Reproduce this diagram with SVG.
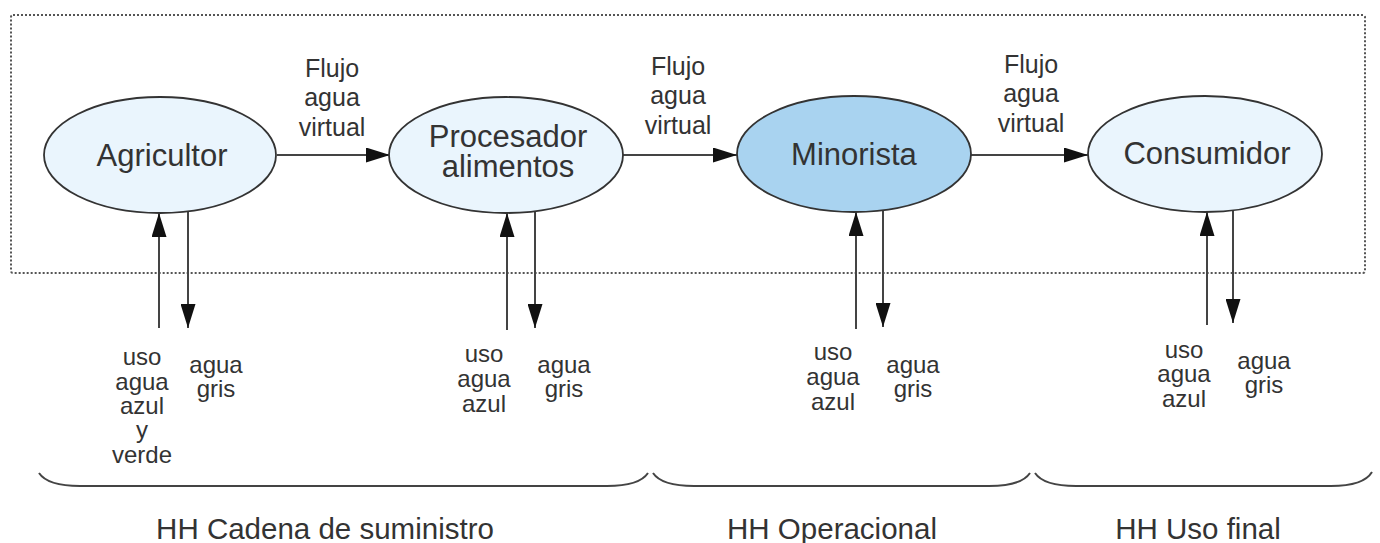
<svg xmlns="http://www.w3.org/2000/svg" width="1380" height="543" viewBox="0 0 1380 543">
  <defs>
    <marker id="arrow" viewBox="0 0 24 15" refX="24" refY="7.5" markerWidth="24" markerHeight="15" markerUnits="userSpaceOnUse" orient="auto">
      <path d="M0,0 L24,7.5 L0,15 Z" fill="#111"/>
    </marker>
    <style>
      .frame { fill: none; stroke: #555; stroke-width: 2; stroke-dasharray: 2 2; }
      .node ellipse { stroke: #333; stroke-width: 1.8; }
      .light { fill: #eaf5fd; }
      .dark { fill: #a9d3f0; }
      .link { stroke: #444; stroke-width: 2; fill: none; marker-end: url(#arrow); }
      .brace { stroke: #444; stroke-width: 2; fill: none; }
      text { font-family: "Liberation Sans", Arial, sans-serif; fill: #333; text-anchor: middle; }
      .name { font-size: 31px; }
      .flow { font-size: 25px; }
      .lbl { font-size: 24px; }
      .sec { font-size: 29.5px; }
    </style>
  </defs>
  <rect width="1380" height="543" fill="#fff"/>

  <!-- dotted system boundary -->
  <rect class="frame" x="11" y="15" width="1354" height="258" rx="2"/>

  <!-- connectors -->
  <g id="connectors">
    <line class="link" x1="277" y1="155" x2="390" y2="155"/>
    <line class="link" x1="623" y1="155" x2="737" y2="155"/>
    <line class="link" x1="971" y1="155" x2="1088" y2="155"/>

    <line class="link" x1="159" y1="328" x2="159" y2="213"/>
    <line class="link" x1="188" y1="211" x2="188" y2="328"/>
    <line class="link" x1="507" y1="330" x2="507" y2="213"/>
    <line class="link" x1="535" y1="211" x2="535" y2="328"/>
    <line class="link" x1="856" y1="329" x2="856" y2="212"/>
    <line class="link" x1="883" y1="210" x2="883" y2="327"/>
    <line class="link" x1="1207" y1="325" x2="1207" y2="212"/>
    <line class="link" x1="1233" y1="210" x2="1233" y2="323"/>
  </g>

  <!-- nodes -->
  <g id="agricultor" class="node">
    <ellipse class="light" cx="160" cy="155" rx="116" ry="58"/>
    <text class="name" x="162" y="166">Agricultor</text>
  </g>
  <g id="procesador" class="node">
    <ellipse class="light" cx="506" cy="155" rx="117" ry="58"/>
    <text class="name" x="508" y="147">Procesador</text>
    <text class="name" x="508" y="177">alimentos</text>
  </g>
  <g id="minorista" class="node">
    <ellipse class="dark" cx="854" cy="154" rx="117" ry="58"/>
    <text class="name" x="854" y="165">Minorista</text>
  </g>
  <g id="consumidor" class="node">
    <ellipse class="light" cx="1205" cy="154" rx="117" ry="58"/>
    <text class="name" x="1207" y="164">Consumidor</text>
  </g>

  <!-- flow labels -->
  <g id="flow-labels">
    <text class="flow" x="332" y="77">Flujo</text>
    <text class="flow" x="332" y="106">agua</text>
    <text class="flow" x="332" y="136">virtual</text>
    <text class="flow" x="678" y="75">Flujo</text>
    <text class="flow" x="678" y="104">agua</text>
    <text class="flow" x="678" y="134">virtual</text>
    <text class="flow" x="1031" y="73">Flujo</text>
    <text class="flow" x="1031" y="102">agua</text>
    <text class="flow" x="1031" y="132">virtual</text>
  </g>

  <!-- water use labels -->
  <g id="use-labels">
    <text class="lbl" x="142" y="365">uso</text>
    <text class="lbl" x="142" y="390">agua</text>
    <text class="lbl" x="142" y="414">azul</text>
    <text class="lbl" x="142" y="438">y</text>
    <text class="lbl" x="142" y="463">verde</text>
    <text class="lbl" x="216" y="373">agua</text>
    <text class="lbl" x="216" y="397">gris</text>

    <text class="lbl" x="484" y="362">uso</text>
    <text class="lbl" x="484" y="387">agua</text>
    <text class="lbl" x="484" y="412">azul</text>
    <text class="lbl" x="564" y="373">agua</text>
    <text class="lbl" x="564" y="397">gris</text>

    <text class="lbl" x="833" y="360">uso</text>
    <text class="lbl" x="833" y="385">agua</text>
    <text class="lbl" x="833" y="410">azul</text>
    <text class="lbl" x="913" y="373">agua</text>
    <text class="lbl" x="913" y="397">gris</text>

    <text class="lbl" x="1184" y="358">uso</text>
    <text class="lbl" x="1184" y="382">agua</text>
    <text class="lbl" x="1184" y="407">azul</text>
    <text class="lbl" x="1264" y="369">agua</text>
    <text class="lbl" x="1264" y="393">gris</text>
  </g>

  <!-- section brackets -->
  <g id="sections">
    <path class="brace" d="M39,473 C45,482 60,486 80,486 H607 C627,486 642,482 648,473"/>
    <path class="brace" d="M653,473 C659,482 674,486 694,486 H989 C1009,486 1024,482 1030,473"/>
    <path class="brace" d="M1035,473 C1041,482 1056,486 1076,486 H1331 C1351,486 1366,482 1372,472"/>
    <text class="sec" x="325" y="539">HH Cadena de suministro</text>
    <text class="sec" x="832" y="539">HH Operacional</text>
    <text class="sec" x="1198" y="539">HH Uso final</text>
  </g>
</svg>
